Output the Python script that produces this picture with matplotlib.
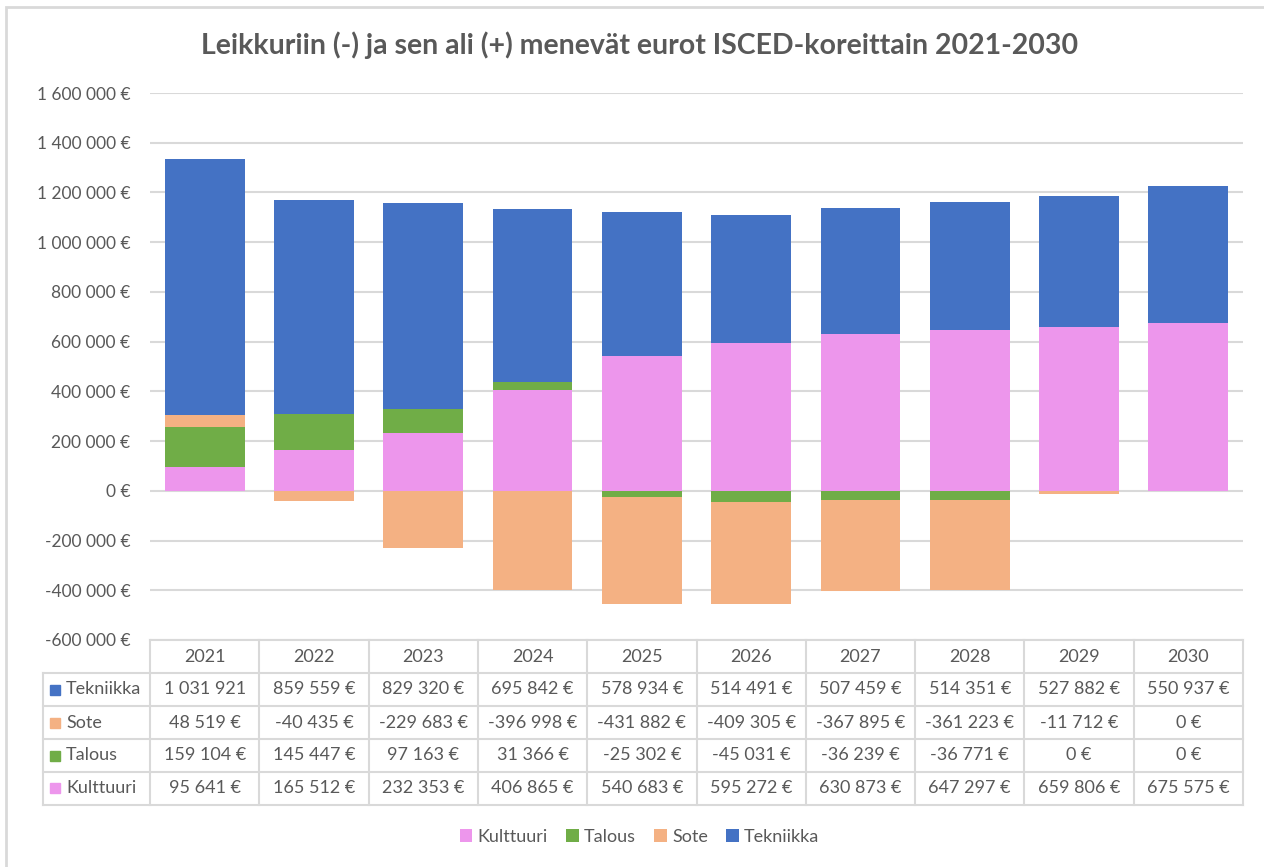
import matplotlib
matplotlib.use("Agg")
import matplotlib.pyplot as plt
from matplotlib.patches import Rectangle

plt.rcParams['font.family'] = ['Lato', 'DejaVu Sans']

YEARS = ["2021", "2022", "2023", "2024", "2025", "2026", "2027", "2028", "2029", "2030"]
SERIES = ["Kulttuuri", "Talous", "Sote", "Tekniikka"]
KULTTUURI = [95641, 165512, 232353, 406865, 540683, 595272, 630873, 647297, 659806, 675575]
TALOUS = [159104, 145447, 97163, 31366, -25302, -45031, -36239, -36771, 0, 0]
SOTE = [48519, -40435, -229683, -396998, -431882, -409305, -367895, -361223, -11712, 0]
TEKNIIKKA = [1031921, 859559, 829320, 695842, 578934, 514491, 507459, 514351, 527882, 550937]
COLORS = ["#ED96EC", "#70AD47", "#F4B183", "#4472C4"]
YTICKS = [-600000, -400000, -200000, 0, 200000, 400000, 600000, 800000,
          1000000, 1200000, 1400000, 1600000]

TEXT = "#595959"
GRID = "#D9D9D9"
W, H = 1264, 867


def fmt(v, table=False):
    s = f"{abs(v):,}".replace(",", " ")
    if v < 0:
        s = "-" + s
    if table and abs(v) >= 1000000:
        return s  # column too narrow for the euro sign
    return s + " €"


def box(x0, y0, x1, y1):
    # pixel box -> figure rect
    return [x0 / W, 1 - y1 / H, (x1 - x0) / W, (y1 - y0) / H]


fig = plt.figure(figsize=(12.64, 8.67), dpi=100)

# chart border
fig.add_artist(Rectangle((6 / W, -0.05), 1.2, 1 - 7 / H + 0.05, transform=fig.transFigure,
                         fill=False, edgecolor=GRID, lw=2))

fig.text(0.506, 1 - 45 / H, "Leikkuriin (-) ja sen ali (+) menevät eurot ISCED-koreittain 2021-2030",
         ha="center", va="center", fontsize=20.5, fontweight="bold", color=TEXT)

ax = fig.add_axes(box(150, 93, 1243, 640))
data = [KULTTUURI, TALOUS, SOTE, TEKNIIKKA]
pos_base = [0] * len(YEARS)
neg_base = [0] * len(YEARS)
x = list(range(len(YEARS)))
for name, vals, col in zip(SERIES, data, COLORS):
    bottoms = []
    for i, v in enumerate(vals):
        if v >= 0:
            bottoms.append(pos_base[i])
            pos_base[i] += v
        else:
            bottoms.append(neg_base[i])
            neg_base[i] += v
    ax.bar(x, vals, bottom=bottoms, width=0.73, color=col, label=name, zorder=3)

ax.set_xlim(-0.5, len(YEARS) - 0.5)
ax.set_ylim(-600000, 1600000)
ax.set_yticks(YTICKS)
ax.set_yticklabels([fmt(v) for v in YTICKS], fontsize=12.5, color=TEXT)
ax.set_xticks([])
ax.tick_params(axis="y", length=0, pad=14)
ax.grid(axis="y", color=GRID, lw=1.5, zorder=0)
for s in ax.spines.values():
    s.set_visible(False)

# data table
tx = fig.add_axes(box(40, 638, 1246, 808))
tx.set_xlim(40, 1246)
tx.set_ylim(808, 638)
tx.axis("off")
left, right = 150, 1243
col_w = (right - left) / len(YEARS)
rows_y = [640, 673, 706, 739, 772, 805]
lab_x = 43
kw = dict(color=GRID, lw=1.5)
tx.plot([left, right], [rows_y[0], rows_y[0]], **kw)
for yy in rows_y[1:]:
    tx.plot([lab_x, right], [yy, yy], **kw)
tx.plot([lab_x, lab_x], [rows_y[1], rows_y[-1]], **kw)
for i in range(len(YEARS) + 1):
    xx = left + i * col_w
    tx.plot([xx, xx], [rows_y[0], rows_y[-1]], **kw)

for i, yr in enumerate(YEARS):
    tx.text(left + (i + 0.5) * col_w, (rows_y[0] + rows_y[1]) / 2 + 1, yr,
            ha="center", va="center", fontsize=13, color=TEXT)

table_rows = list(zip(SERIES, data, COLORS))[::-1]
for r, (name, vals, col) in enumerate(table_rows):
    yc = (rows_y[r + 1] + rows_y[r + 2]) / 2
    tx.add_patch(Rectangle((50, yc - 5), 10, 10, color=col))
    tx.text(66, yc, name, ha="left", va="center", fontsize=13, color=TEXT)
    for i, v in enumerate(vals):
        tx.text(left + (i + 0.5) * col_w, yc, fmt(v, table=True),
                ha="center", va="center", fontsize=13, color=TEXT)

handles, labels = ax.get_legend_handles_labels()
fig.legend(handles, labels, loc="center", bbox_to_anchor=(0.506, 1 - 837 / H), ncol=4,
           frameon=False, fontsize=13, labelcolor=TEXT, handlelength=0.7, handleheight=0.7,
           handletextpad=0.3, columnspacing=1.0)

fig.savefig("out.png", dpi=100)
